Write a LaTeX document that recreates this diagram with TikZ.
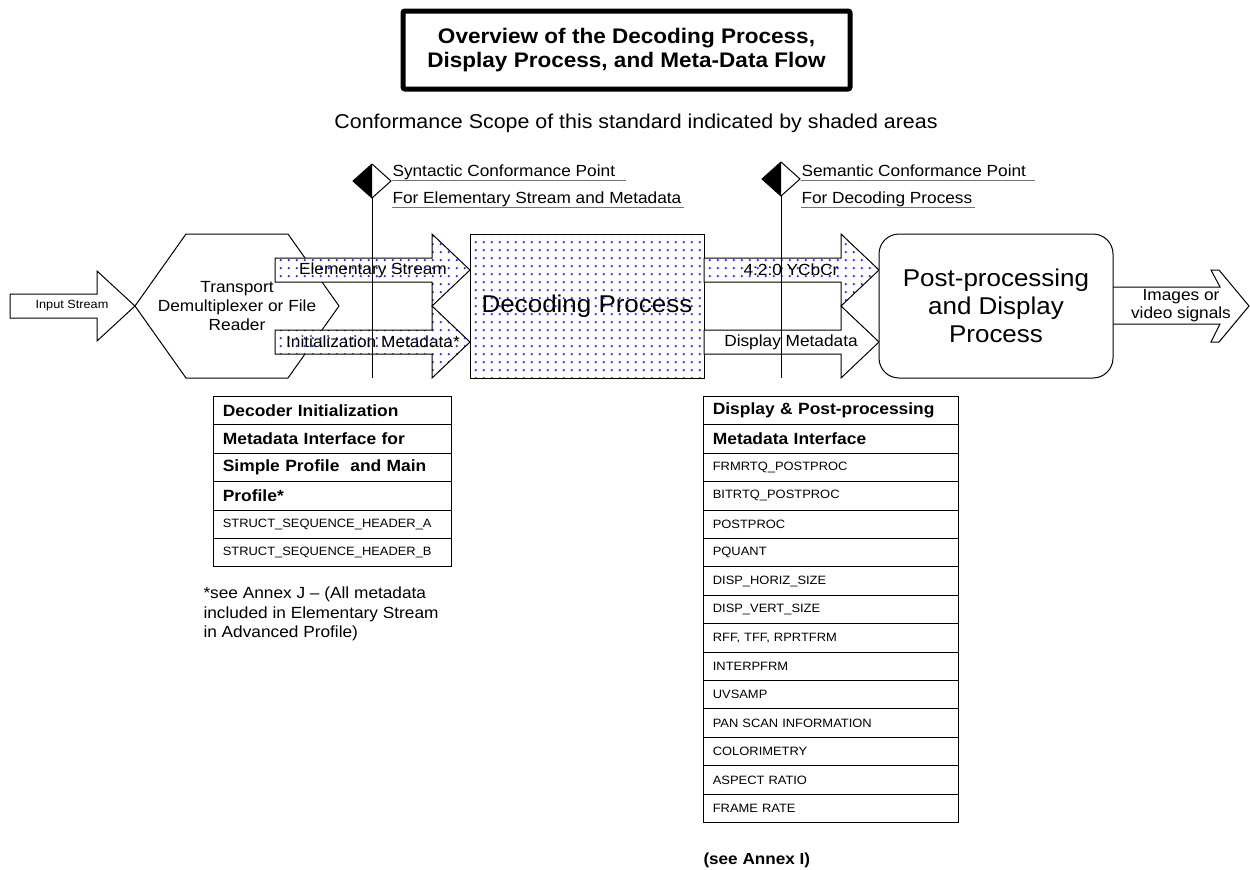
\documentclass[tikz,border=0pt]{standalone}
\usepackage{fontspec}
\setmainfont{Liberation Sans}[FakeStretch=1.07]
\usetikzlibrary{patterns.meta}
\definecolor{dotblue}{RGB}{45,45,255}
\newcommand\fsz[2]{\fontsize{#1}{#2}\selectfont}

\begin{document}
\begin{tikzpicture}[x=0.75pt,y=-0.75pt,line width=0.75pt,
  shaded/.style={preaction={fill=white},pattern={Dots[distance=5.85pt,radius=0.95pt]},pattern color=dotblue},
  blank/.style={fill=white},
  lbl/.style={inner sep=0pt,font=\fsz{12.1}{14.5}},
  uline/.style={line width=0.75pt,draw=black!55},
  rowhead/.style={draw,anchor=north west,minimum height=21.3pt,inner xsep=7pt,inner ysep=0pt,align=left,font=\bfseries\fsz{12.2}{14}},
  rowitem/.style={draw,anchor=north west,minimum height=21.3pt,inner xsep=7pt,inner ysep=0pt,align=left,font=\fsz{9.05}{11}},
  ltab/.style={minimum width=178.5pt,text width=164.5pt},
  rtab/.style={minimum width=191.25pt,text width=177.25pt}]
\useasboundingbox (0,0) rectangle (1250,869);

% heading
\node[draw,line width=3.75pt,rounded corners=1.5pt,minimum width=335.25pt,minimum height=58.5pt,
      align=center,font=\bfseries\fsz{15.8}{18}] (title) at (626.5,50)
  {Overview of the Decoding Process,\\Display Process, and Meta-Data Flow};
\node[font=\fsz{15}{18}] (scope) at (636,123)
  {Conformance Scope of this standard indicated by shaded areas};

% demultiplexer
\draw[blank] (135,306) -- (186,234) -- (288,234) -- (339,306) -- (288,378) -- (186,378) -- cycle;
\node[align=center,font=\fsz{12.1}{14.3}] (demux) at (237,306)
  {Transport\\Demultiplexer or File\\Reader};

% input stream
\draw[blank] (10,294) -- (97,294) -- (97,271) -- (135,306) -- (97,341) -- (97,318) -- (10,318) -- cycle;
\node[font=\fsz{8.9}{10}] (input) at (72,306) {Input Stream};

% streams into the decoder
\draw[shaded] (275,258) -- (432,258) -- (432,234) -- (470,270) -- (432,306) -- (432,282) -- (275,282) -- cycle;
\draw[shaded] (275,330) -- (432,330) -- (432,306) -- (470,342) -- (432,378) -- (432,354) -- (275,354) -- cycle;
\node[lbl] (es) at (373,270) {Elementary Stream};
\node[lbl] (im) at (373,342) {Initialization Metadata*};

% decoding
\node[draw,shaded,minimum width=175.5pt,minimum height=108pt,font=\fsz{18.2}{21}] (dec) at (587,306)
  {Decoding Process};

% decoder outputs
\draw[shaded] (704,258) -- (841,258) -- (841,234) -- (879,270) -- (841,306) -- (841,282) -- (704,282) -- cycle;
\draw[blank] (704,330) -- (841,330) -- (841,306) -- (879,342) -- (841,378) -- (841,354) -- (704,354) -- cycle;
\node[lbl] (yuv) at (791,270) {4:2:0 YCbCr};
\node[lbl] (dm) at (791,342) {Display Metadata};

% display
\draw[blank] (1113,287) -- (1220,287) -- (1211,270) -- (1219,270) -- (1249,306) -- (1219,342) -- (1211,342) -- (1220,324) -- (1113,324);
\node[draw,fill=white,rounded corners=15pt,minimum width=175.5pt,minimum height=108pt,align=center,
      font=\fsz{18.2}{21}] (post) at (996,306) {Post-processing\\and Display\\Process};
\node[align=center,font=\fsz{12.1}{13.5}] (img) at (1181,306) {Images or\\video signals};

% conformance points
\coordinate (synTop) at (372,198);
\coordinate (synBot) at (372,378);
\fill[white] (353,181) -- (372,164) -- (391,181) -- (372,198) -- cycle;
\fill (353,181) -- (372,164) -- (372,198) -- cycle;
\draw (353,181) -- (372,164) -- (391,181) -- (372,198) -- cycle;
\draw (synTop) -- (synBot);
\node[lbl,anchor=base west] (syn1) at (392,176) {Syntactic Conformance Point};
\node[lbl,anchor=base west] (syn2) at (392,203) {For Elementary Stream and Metadata};
\draw[uline] ([yshift=-3pt]syn1.base west) -- ++(234,0);
\draw[uline] ([yshift=-3pt]syn2.base west) -- ++(292,0);

\coordinate (semTop) at (781,196);
\coordinate (semBot) at (781,378);
\fill[white] (762,179) -- (781,162) -- (800,179) -- (781,196) -- cycle;
\fill (762,179) -- (781,162) -- (781,196) -- cycle;
\draw (762,179) -- (781,162) -- (800,179) -- (781,196) -- cycle;
\draw (semTop) -- (semBot);
\node[lbl,anchor=base west] (sem1) at (801,176) {Semantic Conformance Point};
\node[lbl,anchor=base west] (sem2) at (801,203) {For Decoding Process};
\draw[uline] ([yshift=-3pt]sem1.base west) -- ++(234,0);
\draw[uline] ([yshift=-3pt]sem2.base west) -- ++(174,0);

% decoder initialization interface
\foreach \t [count=\i] in {Decoder Initialization,Metadata Interface for,Simple Profile\ \ and Main,Profile*}
  \node[rowhead,ltab] (L\i) at (213,{396+28.4*(\i-1)}) {\t};
\foreach \t [count=\i from 5] in {STRUCT\_SEQUENCE\_HEADER\_A,STRUCT\_SEQUENCE\_HEADER\_B}
  \node[rowitem,ltab] (L\i) at (213,{396+28.4*(\i-1)}) {\t};
\node[anchor=west,align=left,inner sep=0pt,font=\fsz{12.1}{14.6}] (note) at (203,614)
  {*see Annex J – (All metadata\\included in Elementary Stream\\in Advanced Profile)};

% display and post-processing interface
\foreach \t [count=\i] in {Display \& Post-processing,Metadata Interface}
  \node[rowhead,rtab] (R\i) at (703,{396+28.4*(\i-1)}) {\t};
\foreach \t [count=\i from 3] in {FRMRTQ\_POSTPROC,BITRTQ\_POSTPROC,POSTPROC,PQUANT,DISP\_HORIZ\_SIZE,
    DISP\_VERT\_SIZE,{RFF, TFF, RPRTFRM},INTERPFRM,UVSAMP,PAN SCAN INFORMATION,COLORIMETRY,ASPECT RATIO,FRAME RATE}
  \node[rowitem,rtab] (R\i) at (703,{396+28.4*(\i-1)}) {\t};
\node[anchor=west,inner sep=0pt,font=\bfseries\fsz{12}{14}] (annex) at (703,860) {(see Annex I)};
\end{tikzpicture}
\end{document}
